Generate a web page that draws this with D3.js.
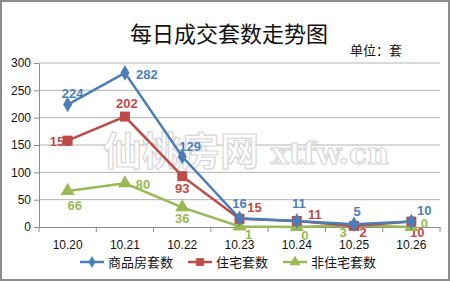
<!DOCTYPE html>
<html>
<head>
<meta charset="utf-8">
<script src="https://cdn.jsdelivr.net/npm/d3@7"></script>
<style>
  body { margin: 0; background: #fff; }
  svg { display: block; }
</style>
</head>
<body>
<div id="chart"></div>
<script>
// data
const dates = ["10.20", "10.21", "10.22", "10.23", "10.24", "10.25", "10.26"];
const commercial = [224, 282, 129, 16, 11, 5, 10];   // 商品房套数
const residential = [158, 202, 93, 15, 11, 2, 10];   // 住宅套数
const nonResidential = [66, 80, 36, 1, 0, 3, 0];     // 非住宅套数
const yTicks = [0, 50, 100, 150, 200, 250, 300];
const seriesNames = ["商品房套数", "住宅套数", "非住宅套数"];

// label nudges [dx, dy] from each point (style only)
const labelNudge = [
  [[5, -7], [22, 6], [8, -5], [0, -10], [2, -13], [3, -8], [13, -7]],
  [[-7, 5], [2, -9], [0, 17], [15, -7], [18, -2], [9, 11], [6, 15]],
  [[7, 19], [18, 6], [0, 16], [9, 13], [8, 13], [-11, 12], [13, 1]]
];

const W = 450, H = 281;
const margin = { top: 63, left: 39 };
const width = 440 - margin.left, height = 227 - margin.top;

const svg = d3.select("#chart").append("svg")
  .attr("width", W).attr("height", H)
  .style("font-family", "'Liberation Sans', Arial, sans-serif");

// outer frame
svg.append("rect")
  .attr("x", 1).attr("y", 1).attr("width", W - 2).attr("height", H - 2)
  .attr("fill", "#fff").attr("stroke", "#8c8c8c").attr("stroke-width", 2);

svg.append("text")
  .attr("x", 229).attr("y", 42)
  .attr("text-anchor", "middle")
  .style("font-family", "'Noto Sans CJK SC', sans-serif")
  .style("font-size", "22px")
  .attr("fill", "#111")
  .text("每日成交套数走势图");

svg.append("text")
  .attr("x", 350).attr("y", 55)
  .style("font-family", "'Noto Sans CJK SC', sans-serif")
  .style("font-size", "13px")
  .attr("fill", "#111")
  .text("单位：套");

const g = svg.append("g").attr("transform", `translate(${margin.left},${margin.top})`);

const x = d3.scaleBand().domain(dates).range([0, width]);
const y = d3.scaleLinear().domain([0, 300]).range([height, 0]);
const cx = d => x(d) + x.bandwidth() / 2;

// grid
g.selectAll(".grid").data(yTicks.filter(t => t > 0)).join("line")
  .attr("x1", 0).attr("x2", width)
  .attr("y1", d => y(d)).attr("y2", d => y(d))
  .attr("stroke", "#b3b3b3").attr("stroke-width", 1);

// watermark
g.append("text")
  .attr("x", 64).attr("y", 102)
  .style("font-family", "'Noto Sans CJK SC', sans-serif")
  .style("font-size", "39px").style("font-weight", "bold")
  .attr("fill", "#fff").attr("stroke", "#d6d6d6").attr("stroke-width", 1.2)
  .text("仙桃房网");
g.append("text")
  .attr("x", 232).attr("y", 101)
  .style("font-family", "'DejaVu Serif', serif")
  .style("font-size", "30px").style("font-weight", "bold")
  .attr("fill", "#fff").attr("stroke", "#d6d6d6").attr("stroke-width", 1.2)
  .text("xtfw.cn");

// y axis
const yAxis = g.append("g").call(d3.axisLeft(y).tickValues(yTicks).tickSize(5).tickSizeOuter(0).tickPadding(3));
yAxis.select(".domain").attr("stroke", "#8c8c8c");
yAxis.selectAll(".tick line").attr("stroke", "#8c8c8c");
yAxis.selectAll("text").style("font-size", "12px").attr("fill", "#111");

// x axis
const xAxis = g.append("g").attr("transform", `translate(0,${height})`)
  .call(d3.axisBottom(x).tickSize(0).tickPadding(13));
xAxis.select(".domain").attr("stroke", "#8c8c8c");
xAxis.selectAll("text").style("font-size", "12px").attr("fill", "#111");
g.selectAll(".xtick").data(d3.range(dates.length + 1)).join("line")
  .attr("x1", i => i * x.bandwidth()).attr("x2", i => i * x.bandwidth())
  .attr("y1", height).attr("y2", height + 5)
  .attr("stroke", "#8c8c8c");

const series = [
  { name: seriesNames[0], values: commercial, color: "#4a7ebb", shape: d3.symbolDiamond, size: 70 },
  { name: seriesNames[1], values: residential, color: "#be4b48", shape: d3.symbolSquare, size: 100 },
  { name: seriesNames[2], values: nonResidential, color: "#98b954", shape: d3.symbolTriangle, size: 85 }
];

// value labels (drawn under the markers, as in the original)
series.forEach((s, si) => {
  g.selectAll(null).data(s.values).join("text")
    .attr("x", (d, i) => cx(dates[i]) + labelNudge[si][i][0])
    .attr("y", (d, i) => y(d) + labelNudge[si][i][1])
    .attr("text-anchor", "middle")
    .style("font-size", "13px").style("font-weight", "bold")
    .attr("fill", s.color)
    .text(d => d);
});

const line = d3.line().x((d, i) => cx(dates[i])).y(d => y(d));

// draw back to front so blue sits on top
series.slice().reverse().forEach(s => {
  g.append("path").datum(s.values)
    .attr("d", line).attr("fill", "none")
    .attr("stroke", s.color).attr("stroke-width", 2.5);
  g.selectAll(null).data(s.values).join("path")
    .attr("d", d3.symbol().type(s.shape).size(s.size))
    .attr("transform", (d, i) => `translate(${cx(dates[i])},${y(d)})`)
    .attr("fill", s.color);
});

// legend
const legendX = [80, 188, 283];
const lg = svg.append("g").attr("transform", "translate(0,262)");
series.forEach((s, i) => {
  const item = lg.append("g").attr("transform", `translate(${legendX[i]},0)`);
  item.append("line").attr("x1", 0).attr("x2", 24).attr("stroke", s.color).attr("stroke-width", 2.5);
  item.append("path").attr("d", d3.symbol().type(s.shape).size(s.size * 0.6))
    .attr("transform", "translate(12,0)").attr("fill", s.color);
  item.append("text").attr("x", 28).attr("y", 5)
    .style("font-family", "'Noto Sans CJK SC', sans-serif")
    .style("font-size", "13px").attr("fill", "#111")
    .text(s.name);
});
</script>
</body>
</html>
